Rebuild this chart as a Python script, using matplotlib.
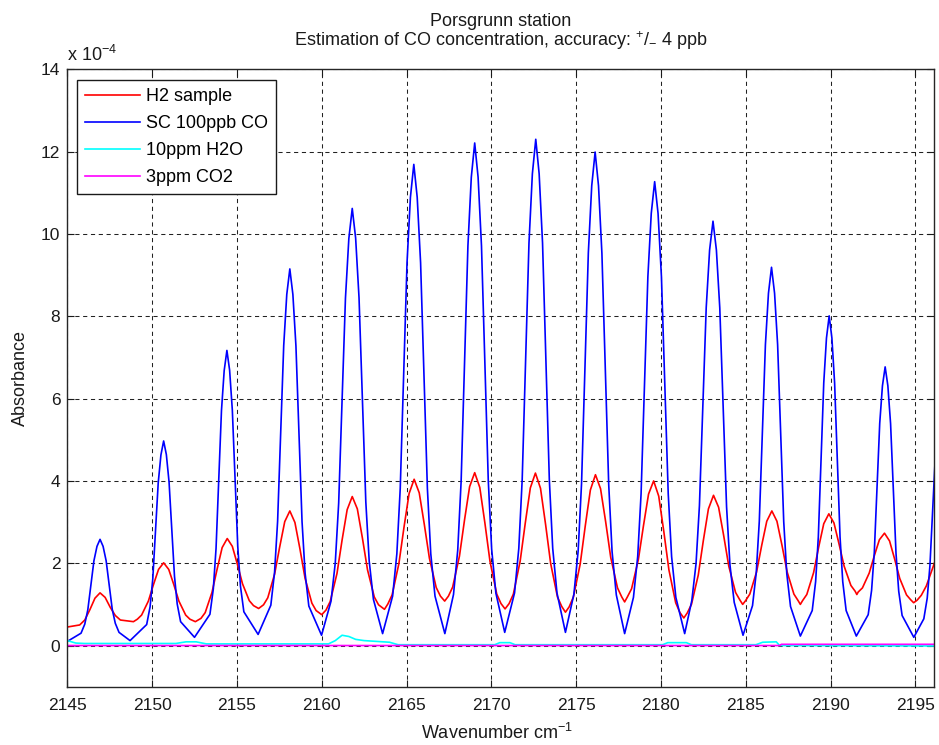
import matplotlib
matplotlib.use("Agg")
import matplotlib.pyplot as plt

# ---------------- data (absorbance in units of 1e-4) ----------------
wn_h2 = [2145.00, 2145.73, 2146.03, 2146.33, 2146.63, 2146.93, 2147.23, 2147.53, 2147.83, 2148.13, 2148.90,
         2149.13, 2149.38, 2149.78, 2150.08, 2150.38, 2150.68, 2150.98, 2151.28, 2151.58, 2151.98, 2152.23, 2152.55,
         2152.88, 2153.13, 2153.53, 2153.83, 2154.13, 2154.43, 2154.73, 2155.03, 2155.33, 2155.73, 2155.98, 2156.28,
         2156.57, 2156.82, 2157.22, 2157.52, 2157.82, 2158.12, 2158.42, 2158.72, 2159.02, 2159.42, 2159.67, 2160.00,
         2160.25, 2160.50, 2160.90, 2161.20, 2161.50, 2161.80, 2162.10, 2162.40, 2162.70, 2163.10, 2163.35, 2163.70,
         2163.90, 2164.15, 2164.55, 2164.85, 2165.15, 2165.45, 2165.75, 2166.05, 2166.35, 2166.75, 2167.00, 2167.25,
         2167.47, 2167.72, 2168.12, 2168.42, 2168.72, 2169.02, 2169.32, 2169.62, 2169.92, 2170.32, 2170.57, 2170.81,
         2171.05, 2171.30, 2171.70, 2172.00, 2172.30, 2172.60, 2172.90, 2173.20, 2173.50, 2173.90, 2174.15, 2174.37,
         2174.59, 2174.84, 2175.24, 2175.54, 2175.84, 2176.14, 2176.44, 2176.74, 2177.04, 2177.44, 2177.69, 2177.86,
         2178.02, 2178.27, 2178.67, 2178.97, 2179.27, 2179.57, 2179.87, 2180.17, 2180.47, 2180.87, 2181.12, 2181.35,
         2181.55, 2181.80, 2182.20, 2182.50, 2182.80, 2183.10, 2183.40, 2183.70, 2184.00, 2184.40, 2184.65, 2184.82,
         2184.99, 2185.24, 2185.64, 2185.94, 2186.24, 2186.54, 2186.84, 2187.14, 2187.44, 2187.84, 2188.09, 2188.22,
         2188.35, 2188.60, 2189.00, 2189.30, 2189.60, 2189.90, 2190.20, 2190.50, 2190.80, 2191.20, 2191.45, 2191.55,
         2191.63, 2191.88, 2192.28, 2192.58, 2192.88, 2193.18, 2193.48, 2193.78, 2194.08, 2194.48, 2194.73, 2194.90,
         2195.10, 2195.35, 2195.65, 2195.95, 2196.25]
abs_h2 = [0.45, 0.50, 0.62, 0.87, 1.15, 1.28, 1.17, 0.93, 0.73, 0.62, 0.58,
          0.64, 0.74, 1.08, 1.48, 1.85, 2.01, 1.85, 1.48, 1.08, 0.74, 0.64, 0.58,
          0.66, 0.80, 1.29, 1.85, 2.38, 2.60, 2.41, 1.97, 1.50, 1.09, 0.97, 0.90,
          0.99, 1.16, 1.73, 2.39, 3.01, 3.27, 2.99, 2.34, 1.63, 1.03, 0.85, 0.75,
          0.86, 1.07, 1.75, 2.56, 3.30, 3.62, 3.32, 2.61, 1.84, 1.18, 0.99, 0.88,
          1.01, 1.23, 1.99, 2.87, 3.69, 4.04, 3.71, 2.94, 2.12, 1.41, 1.20, 1.08,
          1.20, 1.42, 2.17, 3.05, 3.86, 4.20, 3.84, 2.98, 2.05, 1.25, 1.02, 0.89,
          1.02, 1.25, 2.05, 2.97, 3.83, 4.19, 3.82, 2.94, 1.99, 1.18, 0.95, 0.81,
          0.94, 1.18, 1.98, 2.91, 3.78, 4.15, 3.81, 3.01, 2.14, 1.40, 1.18, 1.06,
          1.18, 1.38, 2.09, 2.91, 3.68, 4.00, 3.63, 2.77, 1.84, 1.04, 0.80, 0.67,
          0.79, 1.00, 1.71, 2.55, 3.32, 3.65, 3.36, 2.67, 1.93, 1.29, 1.11, 1.00,
          1.09, 1.25, 1.79, 2.43, 3.02, 3.27, 3.02, 2.43, 1.79, 1.25, 1.09, 1.00,
          1.09, 1.24, 1.77, 2.39, 2.96, 3.20, 2.98, 2.47, 1.93, 1.46, 1.32, 1.24,
          1.30, 1.40, 1.76, 2.18, 2.57, 2.73, 2.54, 2.10, 1.63, 1.23, 1.11, 1.04,
          1.10, 1.22, 1.45, 1.80, 2.15]

wn_sc = [2145.00,
         2145.81, 2146.03, 2146.21, 2146.39, 2146.57, 2146.75, 2146.93,
         2147.11, 2147.29, 2147.47, 2147.65, 2147.83, 2148.05, 2148.70,
         2149.68, 2149.88, 2150.04, 2150.20, 2150.36, 2150.52, 2150.68,
         2150.84, 2151.00, 2151.16, 2151.32, 2151.48, 2151.68, 2152.50,
         2153.41, 2153.61, 2153.77, 2153.93, 2154.09, 2154.25, 2154.41,
         2154.57, 2154.73, 2154.89, 2155.05, 2155.21, 2155.41, 2156.25,
         2157.00, 2157.22, 2157.40, 2157.58, 2157.76, 2157.94, 2158.12,
         2158.30, 2158.48, 2158.66, 2158.84, 2159.02, 2159.24, 2159.99,
         2160.55, 2160.80, 2161.00, 2161.20, 2161.40, 2161.60, 2161.80,
         2162.00, 2162.20, 2162.40, 2162.60, 2162.80, 2163.05, 2163.59,
         2164.18, 2164.43, 2164.63, 2164.83, 2165.03, 2165.23, 2165.43,
         2165.63, 2165.83, 2166.03, 2166.23, 2166.43, 2166.68, 2167.26,
         2167.77, 2168.02, 2168.22, 2168.42, 2168.62, 2168.82, 2169.02,
         2169.22, 2169.42, 2169.62, 2169.82, 2170.02, 2170.27, 2170.79,
         2171.37, 2171.62, 2171.82, 2172.02, 2172.22, 2172.42, 2172.62,
         2172.82, 2173.02, 2173.22, 2173.42, 2173.62, 2173.87, 2174.37,
         2174.87, 2175.12, 2175.32, 2175.52, 2175.72, 2175.92, 2176.12,
         2176.32, 2176.52, 2176.72, 2176.92, 2177.12, 2177.37, 2177.86,
         2178.38, 2178.63, 2178.83, 2179.03, 2179.23, 2179.43, 2179.63,
         2179.83, 2180.03, 2180.23, 2180.43, 2180.63, 2180.88, 2181.40,
         2181.82, 2182.07, 2182.27, 2182.47, 2182.67, 2182.87, 2183.07,
         2183.27, 2183.47, 2183.67, 2183.87, 2184.07, 2184.32, 2184.84,
         2185.40, 2185.62, 2185.80, 2185.98, 2186.16, 2186.34, 2186.52,
         2186.70, 2186.88, 2187.06, 2187.24, 2187.42, 2187.64, 2188.22,
         2188.92, 2189.12, 2189.28, 2189.44, 2189.60, 2189.76, 2189.92,
         2190.08, 2190.24, 2190.40, 2190.56, 2190.72, 2190.92, 2191.52,
         2192.22, 2192.42, 2192.58, 2192.74, 2192.90, 2193.06, 2193.22,
         2193.38, 2193.54, 2193.70, 2193.86, 2194.02, 2194.22, 2194.91,
         2195.50, 2195.70, 2195.86, 2196.02, 2196.18, 2196.34]
abs_sc = [0.10,
          0.30, 0.52, 0.87, 1.46, 2.06, 2.41, 2.58,
          2.41, 2.06, 1.47, 0.88, 0.54, 0.32, 0.12,
          0.51, 0.94, 1.62, 2.79, 3.95, 4.63, 4.97,
          4.64, 3.97, 2.82, 1.68, 1.01, 0.58, 0.20,
          0.76, 1.38, 2.36, 4.03, 5.71, 6.68, 7.17,
          6.69, 5.72, 4.07, 2.41, 1.44, 0.82, 0.27,
          0.98, 1.78, 3.02, 5.15, 7.29, 8.53, 9.15,
          8.53, 7.28, 5.15, 3.01, 1.76, 0.96, 0.25,
          1.08, 2.01, 3.46, 5.95, 8.44, 9.89, 10.62,
          9.90, 8.45, 5.97, 3.49, 2.05, 1.12, 0.29,
          1.20, 2.23, 3.82, 6.56, 9.30, 10.89, 11.69,
          10.89, 9.30, 6.56, 3.82, 2.23, 1.20, 0.29,
          1.24, 2.32, 3.99, 6.85, 9.71, 11.38, 12.21,
          11.38, 9.71, 6.86, 4.01, 2.34, 1.27, 0.32,
          1.28, 2.36, 4.03, 6.91, 9.78, 11.46, 12.30,
          11.46, 9.78, 6.91, 4.03, 2.36, 1.28, 0.32,
          1.25, 2.30, 3.94, 6.74, 9.54, 11.17, 11.99,
          11.17, 9.53, 6.73, 3.92, 2.28, 1.23, 0.29,
          1.17, 2.16, 3.69, 6.33, 8.96, 10.50, 11.27,
          10.50, 8.96, 6.33, 3.69, 2.16, 1.17, 0.29,
          1.09, 1.99, 3.40, 5.80, 8.21, 9.61, 10.31,
          9.61, 8.20, 5.78, 3.37, 1.96, 1.05, 0.25,
          0.97, 1.77, 3.02, 5.17, 7.31, 8.56, 9.19,
          8.56, 7.31, 5.16, 3.01, 1.75, 0.95, 0.23,
          0.85, 1.55, 2.64, 4.51, 6.38, 7.47, 8.01,
          7.47, 6.38, 4.51, 2.64, 1.55, 0.85, 0.23,
          0.75, 1.34, 2.26, 3.83, 5.40, 6.31, 6.77,
          6.31, 5.39, 3.81, 2.24, 1.32, 0.73, 0.20,
          0.65, 1.15, 1.94, 3.28, 4.62, 5.41]

wn_h2o = [2145.0, 2145.5, 2146.0, 2151.4, 2152.0, 2152.6, 2153.2, 2160.4, 2160.8, 2161.2,
          2161.6, 2162.0, 2162.5, 2164.0, 2164.5, 2170.2, 2170.5, 2171.1, 2171.4, 2180.1,
          2180.4, 2181.5, 2181.8, 2185.6, 2186.0, 2186.8, 2187.0, 2196.1]
abs_h2o = [0.12, 0.06, 0.05, 0.05, 0.09, 0.09, 0.04, 0.04, 0.12, 0.25,
           0.22, 0.15, 0.12, 0.08, 0.02, 0.02, 0.07, 0.07, 0.02, 0.02,
           0.07, 0.07, 0.02, 0.02, 0.08, 0.09, 0.00, -0.01]

wn_co2 = [2145.0, 2187.0, 2187.1, 2196.1]
abs_co2 = [0.00, 0.00, 0.03, 0.03]

series_labels = ["H2 sample", "SC 100ppb CO", "10ppm H2O", "3ppm CO2"]
x_ticks = [2145, 2150, 2155, 2160, 2165, 2170, 2175, 2180, 2185, 2190, 2195]
y_ticks = [0, 2, 4, 6, 8, 10, 12, 14]

# ---------------- style ----------------
plt.rcParams['font.family'] = ['Liberation Sans', 'DejaVu Sans']
plt.rcParams['mathtext.fontset'] = 'custom'
plt.rcParams['mathtext.rm'] = 'Liberation Sans'
plt.rcParams['mathtext.it'] = 'Liberation Sans:italic'
plt.rcParams['mathtext.bf'] = 'Liberation Sans:bold'
plt.rcParams['mathtext.default'] = 'regular'

TXT = '#1a1a1a'
LW = 1.2
W, H = 939, 745
fig = plt.figure(figsize=(W / 100, H / 100), dpi=100)
L, R, T, B = 67.3, 934.0, 69.3, 686.7
ax = fig.add_axes([L / W, 1 - B / H, (R - L) / W, (B - T) / H])

ax.plot(wn_h2, abs_h2, color='#ff0000', lw=LW, label=series_labels[0])
ax.plot(wn_sc, abs_sc, color='#0000ff', lw=LW, label=series_labels[1])
ax.plot(wn_h2o, abs_h2o, color='#00ffff', lw=LW, label=series_labels[2])
ax.plot(wn_co2, abs_co2, color='#ff00ff', lw=LW, label=series_labels[3])

ax.set_xlim(2145, 2196.1)
ax.set_ylim(-1, 14)
ax.set_xticks(x_ticks)
ax.set_yticks(y_ticks)
ax.tick_params(direction='in', top=True, right=True, length=5, width=0.8,
               labelsize=12.5, colors=TXT)
ax.tick_params(axis='x', pad=8)
ax.tick_params(axis='y', pad=5)
ax.grid(True, color='#222222', linestyle=(0, (4, 3.5)), linewidth=0.75)
ax.set_axisbelow(True)
for s in ax.spines.values():
    s.set_linewidth(1.0)
    s.set_color('#262626')

leg = ax.legend(loc='upper left', bbox_to_anchor=((77 - L) / (R - L), (B - 80) / (B - T)),
                borderaxespad=0, fontsize=13, frameon=True, fancybox=False,
                edgecolor=TXT, framealpha=1, handlelength=3.05,
                handletextpad=0.33, labelspacing=0.55, borderpad=0.45)
leg.get_frame().set_linewidth(1.0)

fig.text(67 / W, 1 - 61 / H, r"x 10$^{-4}$", fontsize=13, ha='left', va='baseline', color=TXT)
fig.text((L + R) / 2 / W, 1 - 26 / H, "Porsgrunn station", fontsize=13,
         ha='center', va='baseline', color=TXT)
fig.text((L + R) / 2 / W, 1 - 46 / H, r"Estimation of CO concentration, accuracy: $^{+}$/$_{-}$ 4 ppb",
         fontsize=13, ha='center', va='baseline', color=TXT)
fig.text(497 / W, 1 - 739 / H, r"Wavenumber cm$^{-1}$", fontsize=13,
         ha='center', va='baseline', color=TXT)
fig.text(20 / W, 1 - ((T + B) / 2) / H, "Absorbance", fontsize=13, rotation=90,
         ha='center', va='center', color=TXT)

fig.savefig("out.png", dpi=100)
